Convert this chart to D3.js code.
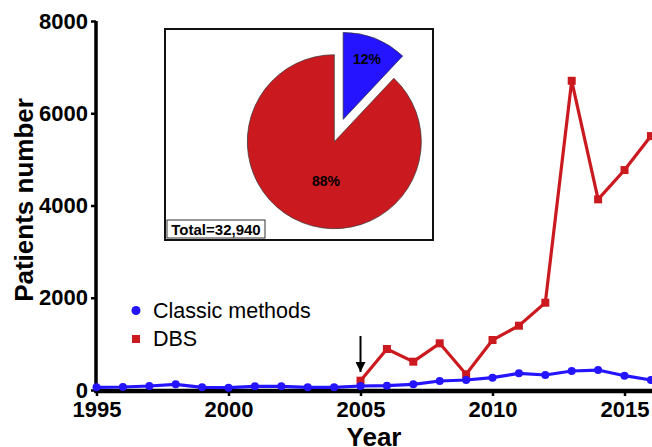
<!DOCTYPE html>
<html>
<head>
<meta charset="utf-8">
<script src="https://cdn.jsdelivr.net/npm/d3@7"></script>
<style>
  html, body { margin: 0; padding: 0; background: #fff; }
  svg { display: block; font-family: "Liberation Sans", Arial, sans-serif; }
</style>
</head>
<body>
<svg id="chart" width="652" height="447"></svg>
<script>
const years = [1995,1996,1997,1998,1999,2000,2001,2002,2003,2004,2005,2006,2007,2008,2009,2010,2011,2012,2013,2014,2015,2016];
const classicValues = [58,65,87,123,58,50,80,80,58,58,87,93,123,195,217,267,361,325,412,433,310,217];
const dbsYears = [2005,2006,2007,2008,2009,2010,2011,2012,2013,2014,2015,2016];
const dbsValues = [202,889,614,1012,340,1084,1394,1892,6704,4133,4768,5505];
const xTicks = [1995,2000,2005,2010,2015];
const yTicks = [0,2000,4000,6000,8000];
const pieLabels = ["Classic methods","DBS"];
const pieValues = [12,88];
const totalLabel = "Total=32,940";
const blue = "#2414ff";
const red = "#cb1a1f";

const svg = d3.select("#chart");
const x = d3.scaleLinear().domain([1995, 2016.2]).range([96.5, 656.2]);
const y = d3.scaleLinear().domain([0, 8000]).range([390, 21]);

// axes
const xAxis = svg.append("g").attr("transform", "translate(0,391)")
  .call(d3.axisBottom(x).tickValues(xTicks).tickFormat(d3.format("d")).tickSize(5).tickPadding(5));
xAxis.select(".domain").attr("stroke-width", 4.5).attr("d", `M${x(1995)-2},0H660`);
xAxis.selectAll(".tick line").attr("stroke-width", 2.5);
xAxis.selectAll(".tick text").attr("font-size", 22).attr("font-weight", "bold").attr("fill", "#000")
  .attr("font-family", "Liberation Sans, Arial, sans-serif");

const yAxis = svg.append("g").attr("transform", "translate(96,0)")
  .call(d3.axisLeft(y).tickValues(yTicks).tickFormat(d3.format("d")).tickSize(5).tickPadding(3));
yAxis.select(".domain").attr("stroke-width", 3.5).attr("d", `M0,${y(8000)}V${y(0)+3}`);
yAxis.selectAll(".tick line").attr("stroke-width", 2.5);
yAxis.selectAll(".tick text").attr("font-size", 22).attr("font-weight", "bold").attr("fill", "#000")
  .attr("font-family", "Liberation Sans, Arial, sans-serif");

// axis titles
svg.append("text").attr("x", 374).attr("y", 446).attr("text-anchor", "middle")
  .attr("font-size", 26).attr("font-weight", "bold").text("Year");
svg.append("text").attr("transform", "translate(33,200) rotate(-90)").attr("text-anchor", "middle")
  .attr("font-size", 26).attr("font-weight", "bold").text("Patients number");

// lines
const classic = years.map((yr, i) => ({yr, v: classicValues[i]}));
const dbs = dbsYears.map((yr, i) => ({yr, v: dbsValues[i]}));
const line = d3.line().x(d => x(d.yr)).y(d => y(d.v));

svg.append("path").datum(dbs).attr("d", line).attr("fill", "none").attr("stroke", red).attr("stroke-width", 3.2).attr("stroke-linejoin", "miter");
svg.selectAll("rect.dbs").data(dbs).enter().append("rect").attr("class", "dbs")
  .attr("x", d => x(d.yr) - 4).attr("y", d => y(d.v) - 4).attr("width", 8).attr("height", 8).attr("fill", red);

svg.append("path").datum(classic).attr("d", line).attr("fill", "none").attr("stroke", blue).attr("stroke-width", 3.2);
svg.selectAll("circle.cl").data(classic).enter().append("circle").attr("class", "cl")
  .attr("cx", d => x(d.yr)).attr("cy", d => y(d.v)).attr("r", 4).attr("fill", blue);

// arrow annotation at 2005
const ax = x(2005);
svg.append("defs").append("marker").attr("id", "ah").attr("viewBox", "0 0 10 10").attr("refX", 10).attr("refY", 5)
  .attr("markerWidth", 5).attr("markerHeight", 5).attr("orient", "auto")
  .append("path").attr("d", "M0,0L10,5L0,10Z").attr("fill", "#000");
svg.append("line").attr("x1", ax).attr("x2", ax).attr("y1", 336).attr("y2", 372)
  .attr("stroke", "#000").attr("stroke-width", 2).attr("marker-end", "url(#ah)");

// legend
svg.append("circle").attr("cx", 136).attr("cy", 310.5).attr("r", 4.5).attr("fill", blue);
svg.append("text").attr("x", 153).attr("y", 317.5).attr("font-size", 21.5).text(pieLabels[0]);
svg.append("rect").attr("x", 132).attr("y", 335).attr("width", 8).attr("height", 8).attr("fill", red);
svg.append("text").attr("x", 153).attr("y", 346).attr("font-size", 21.5).text(pieLabels[1]);

// inset
const inset = svg.append("g");
inset.append("rect").attr("x", 165).attr("y", 29).attr("width", 268).attr("height", 211)
  .attr("fill", "#fff").attr("stroke", "#111").attr("stroke-width", 2);
const cx = 334.3, cy = 141.7, r = 87;
const pie = d3.pie().sort(null)(pieValues);
const arc = d3.arc().innerRadius(0).outerRadius(r);
const pg = inset.append("g").attr("transform", `translate(${cx},${cy})`);
const colors = [blue, red];
const explode = [24, 0];
pie.forEach((p, i) => {
  const mid = (p.startAngle + p.endAngle) / 2;
  const dx = Math.sin(mid) * explode[i], dy = -Math.cos(mid) * explode[i];
  const g = pg.append("g").attr("transform", `translate(${dx},${dy})`);
  g.append("path").attr("d", arc(p)).attr("fill", colors[i]).attr("stroke", "#333").attr("stroke-width", 0.7);
});
// pie labels
inset.append("text").attr("x", 367).attr("y", 64).attr("text-anchor", "middle")
  .attr("font-size", 14).attr("font-weight", "bold").text(pieValues[0] + "%");
inset.append("text").attr("x", 326).attr("y", 186).attr("text-anchor", "middle")
  .attr("font-size", 14).attr("font-weight", "bold").text(pieValues[1] + "%");
inset.append("rect").attr("x", 167).attr("y", 220).attr("width", 98).attr("height", 18)
  .attr("fill", "#fff").attr("stroke", "#333").attr("stroke-width", 1);
inset.append("text").attr("x", 216).attr("y", 235).attr("text-anchor", "middle")
  .attr("font-size", 15).attr("font-weight", "bold").text(totalLabel);
</script>
</body>
</html>
